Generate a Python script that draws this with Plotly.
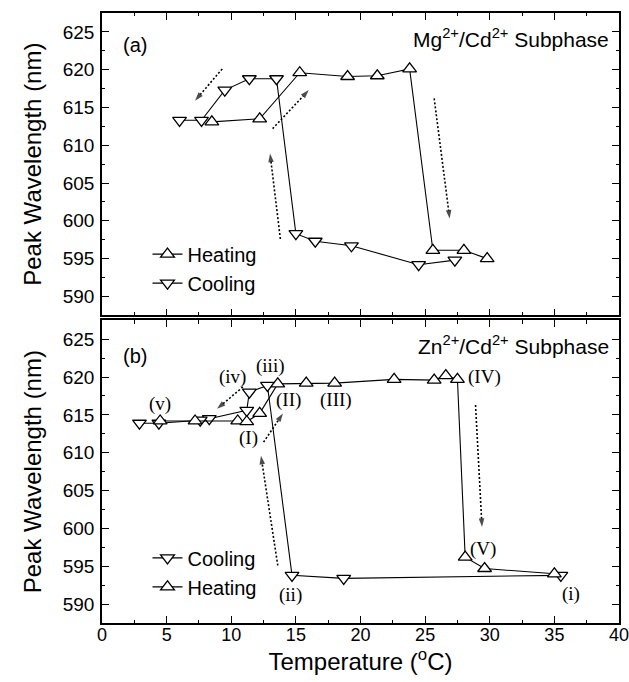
import plotly.graph_objects as go

# ---------------- data: panel (a) Mg2+/Cd2+ subphase ----------------
a_heat_T = [8.5, 12.2, 15.3, 19.0, 21.3, 23.8, 25.6, 28.0, 29.8]
a_heat_W = [613.1, 613.5, 619.6, 619.1, 619.2, 620.1, 596.1, 596.1, 595.0]
a_cool_T = [27.3, 24.5, 19.3, 16.5, 15.0, 13.5, 11.4, 9.5, 7.7, 6.0]
a_cool_W = [594.8, 594.2, 596.7, 597.3, 598.3, 618.8, 618.8, 617.3, 613.3, 613.3]

# ---------------- data: panel (b) Zn2+/Cd2+ subphase ----------------
b_cool_T = [35.5, 18.7, 14.7, 12.8, 11.4, 11.2, 8.3, 7.6, 4.4, 2.9]
b_cool_W = [593.8, 593.4, 593.8, 618.9, 618.0, 615.6, 614.5, 614.3, 613.9, 613.9]
b_heat_T = [4.5, 7.2, 10.5, 11.2, 12.2, 13.6, 15.8, 18.0, 22.6, 25.7, 26.6, 27.5, 28.1, 29.6, 35.0]
b_heat_W = [614.2, 614.2, 614.2, 614.1, 615.2, 619.1, 619.2, 619.2, 619.7, 619.6, 620.2, 619.7, 596.2, 594.7, 594.0]

# dotted guide arrows: (start T, start W, end T, end W)
a_arrows = [(9.3, 620.1, 7.2, 615.9),
            (13.2, 612.2, 16.0, 617.3),
            (13.8, 597.6, 13.0, 608.9),
            (25.7, 616.2, 26.9, 600.3)]
b_arrows = [(10.9, 618.7, 8.9, 615.8),
            (12.5, 611.4, 14.0, 615.2),
            (13.6, 595.1, 12.3, 609.6),
            (28.9, 616.3, 29.4, 600.2)]

# point labels in panel (b)
b_label_text = ["(v)", "(iv)", "(iii)", "(II)", "(III)", "(I)", "(ii)", "(IV)", "(V)", "(i)"]
b_label_T = [4.5, 10.1, 13.0, 14.4, 18.1, 11.3, 14.6, 29.6, 29.5, 36.3]
b_label_W = [616.5, 620.0, 621.5, 617.0, 617.0, 611.9, 591.2, 620.0, 597.3, 591.3]

x_ticks = [0, 5, 10, 15, 20, 25, 30, 35, 40]
y_ticks = [590, 595, 600, 605, 610, 615, 620, 625]

SANS = "Liberation Sans, Arial, sans-serif"
SERIF = "Liberation Serif, Times New Roman, serif"

fig = go.Figure()


def series(T, W, name, sym, xa, ya, legend):
    fig.add_trace(go.Scatter(
        x=T, y=W, name=name, mode="lines+markers", xaxis=xa, yaxis=ya,
        legend=legend,
        line=dict(color="black", width=1.1),
        marker=dict(symbol=sym, size=12, color="white",
                    line=dict(color="black", width=1.3)),
    ))


def arrows(lst, xa, ya):
    for (x0, y0, x1, y1) in lst:
        fig.add_trace(go.Scatter(
            x=[x0, x1], y=[y0, y1], mode="lines+markers", xaxis=xa, yaxis=ya,
            showlegend=False, hoverinfo="skip",
            line=dict(color="black", width=1.6, dash="2px,2px"),
            marker=dict(symbol="arrow", size=[0, 9], angleref="previous",
                        color="black", line=dict(width=0)),
        ))


# panel (a)
series(a_heat_T, a_heat_W, "Heating", "triangle-up", "x", "y", "legend")
series(a_cool_T, a_cool_W, "Cooling", "triangle-down", "x", "y", "legend")
arrows(a_arrows, "x", "y")
# panel (b)
series(b_cool_T, b_cool_W, "Cooling", "triangle-down", "x2", "y2", "legend2")
series(b_heat_T, b_heat_W, "Heating", "triangle-up", "x2", "y2", "legend2")
arrows(b_arrows, "x2", "y2")

for t, xx, yy in zip(b_label_text, b_label_T, b_label_W):
    fig.add_annotation(x=xx, y=yy, xref="x2", yref="y2", text=t, showarrow=False,
                       font=dict(family=SERIF, size=19, color="black"))

fig.add_annotation(x=1.5, y=623.3, xref="x", yref="y", text="(a)", showarrow=False,
                   xanchor="left", font=dict(family=SANS, size=20, color="black"))
fig.add_annotation(x=39.4, y=624.2, xref="x", yref="y",
                   text="Mg<sup>2+</sup>/Cd<sup>2+</sup> Subphase", showarrow=False,
                   xanchor="right", font=dict(family=SANS, size=21, color="black"))
fig.add_annotation(x=1.5, y=622.8, xref="x2", yref="y2", text="(b)", showarrow=False,
                   xanchor="left", font=dict(family=SANS, size=20, color="black"))
fig.add_annotation(x=39.4, y=624.2, xref="x2", yref="y2",
                   text="Zn<sup>2+</sup>/Cd<sup>2+</sup> Subphase", showarrow=False,
                   xanchor="right", font=dict(family=SANS, size=21, color="black"))

xcommon = dict(range=[0, 40], tickvals=x_ticks, ticks="inside", ticklen=7, tickwidth=1.2,
               tickcolor="black", showline=True, linecolor="black", linewidth=1.5,
               mirror="ticks", showgrid=False, zeroline=False, automargin=False,
               ticklabelstandoff=-5, ticklabeloverflow="allow",
               minor=dict(dtick=2.5, tick0=0, ticks="inside", ticklen=3.5,
                          tickcolor="black", tickwidth=1.2),
               tickfont=dict(family=SANS, size=18, color="black"))
ycommon = dict(range=[587.5, 627.5], tickvals=y_ticks, ticks="inside", ticklen=7,
               tickwidth=1.2, tickcolor="black", showline=True, linecolor="black",
               linewidth=1.5, mirror="ticks", showgrid=False, zeroline=False,
               automargin=False, ticklabelstandoff=2,
               minor=dict(dtick=2.5, tick0=0, ticks="inside", ticklen=3.5,
                          tickcolor="black", tickwidth=1.2),
               tickfont=dict(family=SANS, size=19, color="black"),
               title=dict(text="Peak Wavelength (nm)",
                          font=dict(family=SANS, size=24, color="black"), standoff=14))

fig.update_layout(
    width=629, height=682,
    margin=dict(l=102, r=10, t=13, b=59),
    paper_bgcolor="white", plot_bgcolor="white",
    showlegend=True,
    xaxis=dict(**xcommon, anchor="y", domain=[0, 1], showticklabels=False),
    yaxis=dict(**ycommon, anchor="x", domain=[0.5044, 1]),
    xaxis2=dict(**xcommon, anchor="y2", domain=[0, 1],
                title=dict(text="Temperature (<sup>o</sup>C)",
                           font=dict(family=SANS, size=24, color="black"), standoff=2)),
    yaxis2=dict(**ycommon, anchor="x2", domain=[0, 0.4962]),
    legend=dict(x=0.088, y=0.581, xanchor="left", yanchor="middle",
                bgcolor="rgba(0,0,0,0)", font=dict(family=SANS, size=20, color="black"),
                tracegroupgap=0, itemsizing="trace"),
    legend2=dict(x=0.088, y=0.083, xanchor="left", yanchor="middle",
                 bgcolor="rgba(0,0,0,0)", font=dict(family=SANS, size=20, color="black"),
                 tracegroupgap=0, itemsizing="trace"),
)

# remove the browser's default 8px page margin so the figure sits at (0, 0)
fig.write_html("out.html", config={"displayModeBar": False},
               post_script="document.body.style.margin='0';document.body.style.overflow='hidden';")
